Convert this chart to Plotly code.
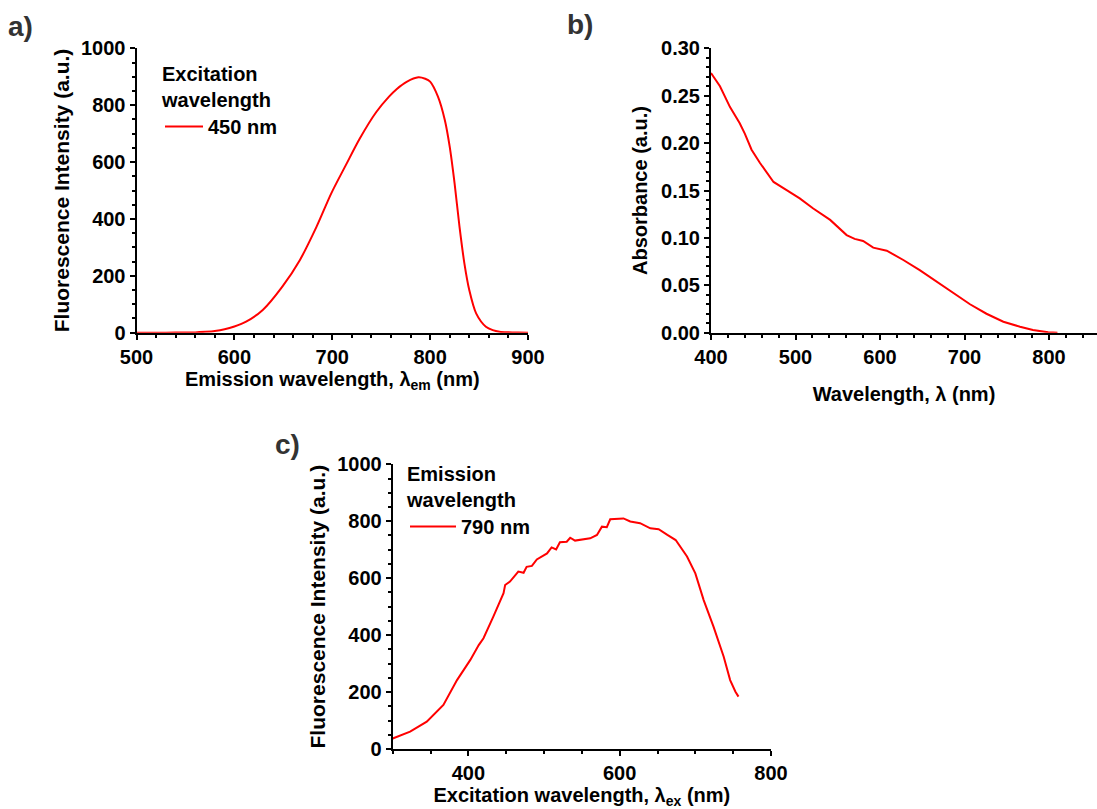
import plotly.graph_objects as go

# Panel a: emission spectrum (excitation 450 nm)
em_wl = [500, 520, 540, 560, 570, 580, 590, 600, 612, 629, 649, 667, 684, 699, 714, 728, 745, 758, 766,
         776, 788, 795, 800, 808, 815, 820, 825, 830, 835, 840, 847, 857, 864, 871, 880, 890, 900]
em_int = [0, 0, 0.3, 1, 3, 6, 12, 22, 39, 80, 162, 256, 373, 490, 590, 682, 776, 830, 857,
          882, 898, 893, 883, 830, 748, 654, 525, 373, 244, 150, 68, 21, 9, 3.5, 1.5, 0.5, 0]

# Panel b: absorbance spectrum
ab_wl = [400, 410.6, 422.5, 434, 440, 448, 458, 474, 489.5, 505, 521, 541, 560.5, 570, 580, 592, 608,
         627.6, 647, 667, 686.8, 706.5, 726, 746, 765.7, 781, 799, 810]
ab_val = [0.274, 0.260, 0.238, 0.221, 0.210, 0.193, 0.179, 0.159, 0.1505, 0.1417, 0.131, 0.119, 0.103,
          0.099, 0.0967, 0.0897, 0.0865, 0.0767, 0.066, 0.0538, 0.0415, 0.030, 0.020, 0.0116, 0.0063,
          0.0028, 0.0004, 0.0]

# Panel c: excitation spectrum (emission 790 nm)
ex_wl = [300, 323, 345, 367, 385, 402.6, 413.7, 420, 433, 446.5, 448.6, 455, 466, 473, 477, 484, 490.5,
         504, 510, 516, 521, 530, 534.6, 541, 561, 570, 576.5, 583, 587.5, 605, 614, 627, 640.5, 651.5,
         663, 674, 689, 700, 711, 724, 737.5, 746, 753, 757]
ex_int = [37, 61, 96, 155, 242, 313, 365, 389, 465, 547, 576, 588, 623, 619, 640, 643, 666,
          687, 708, 701, 726, 728, 742, 732, 740, 752, 781, 779, 807, 810, 799, 793, 775, 772,
          752, 734, 676, 617, 523, 430, 324, 242, 201, 184]

RED = "#ff0000"
FONT = "Liberation Sans, Arial, sans-serif"
tickf = dict(family=FONT, size=20, color="black", weight="bold")

W, H = 1097, 809
def xd(a, b):
    return [a / W, b / W]
def yd(top, bot):
    return [1 - bot / H, 1 - top / H]

fig = go.Figure()
fig.add_trace(go.Scatter(x=em_wl, y=em_int, mode="lines",
                         line=dict(color=RED, width=2, shape="spline", smoothing=0.8),
                         name="450 nm", xaxis="x", yaxis="y", legend="legend"))
fig.add_trace(go.Scatter(x=ab_wl, y=ab_val, mode="lines", line=dict(color=RED, width=2),
                         name="abs", xaxis="x2", yaxis="y2", showlegend=False))
fig.add_trace(go.Scatter(x=ex_wl, y=ex_int, mode="lines", line=dict(color=RED, width=2),
                         name="790 nm", xaxis="x3", yaxis="y3", legend="legend2"))

def axis(domain, rng, dtick, tick0, title, anchor, standoff, tsize=20, fmt=None):
    d = dict(domain=domain, range=rng, dtick=dtick, tick0=tick0, automargin=False,
             showline=True, linecolor="black", linewidth=2, mirror=False,
             ticks="outside", ticklen=5, tickwidth=2, tickcolor="black",
             minor=dict(ticks="outside", ticklen=3, tickwidth=2, tickcolor="black", showgrid=False),
             showgrid=False, zeroline=False, tickfont=tickf, anchor=anchor,
             title=dict(text=title, font=dict(family=FONT, size=tsize, color="black", weight="bold"),
                        standoff=standoff))
    if fmt:
        d["tickformat"] = fmt
    return d

legfont = dict(family=FONT, size=20, color="black", weight="bold")
fig.update_layout(
    width=W, height=H,
    margin=dict(l=0, r=0, t=0, b=0, pad=0, autoexpand=False),
    paper_bgcolor="white", plot_bgcolor="white",
    xaxis=axis(xd(136.5, 528), [500, 900], 100, 500, "Emission wavelength, λ<sub>em</sub> (nm)", "y", 4),
    yaxis=axis(yd(48.3, 332.7), [0, 1000], 200, 0, "Fluorescence Intensity (a.u.)", "x", 6, tsize=21),
    xaxis2=axis(xd(711, 1097), [400, 856.8], 100, 400, "Wavelength, λ (nm)", "y2", 20),
    yaxis2=axis(yd(48.3, 332.7), [0, 0.30], 0.05, 0, "Absorbance (a.u.)", "x2", 8, fmt=".2f"),
    xaxis3=axis(xd(392.7, 771), [300, 800], 200, 400, "Excitation wavelength, λ<sub>ex</sub> (nm)", "y3", 2),
    yaxis3=axis(yd(464.3, 749), [0, 1000], 200, 0, "Fluorescence Intensity (a.u.)", "x3", 6, tsize=21),
    legend=dict(x=160 / W, y=1 - 55 / H, xanchor="left", yanchor="top", bgcolor="rgba(0,0,0,0)",
                itemwidth=38, font=legfont, title=dict(text="Excitation<br>wavelength", font=legfont)),
    legend2=dict(x=405 / W, y=1 - 455 / H, xanchor="left", yanchor="top", bgcolor="rgba(0,0,0,0)",
                 itemwidth=46, font=legfont, title=dict(text="Emission<br>wavelength", font=legfont)),
)

for txt, x, y in [("a)", 6, 27), ("b)", 565, 25), ("c)", 273, 444)]:
    fig.add_annotation(text=txt, x=x / W, y=1 - y / H, xref="paper", yref="paper", xanchor="left",
                       yanchor="middle", showarrow=False,
                       font=dict(family=FONT, size=28, color="#333333", weight="bold"))

fig.write_html("out.html")
